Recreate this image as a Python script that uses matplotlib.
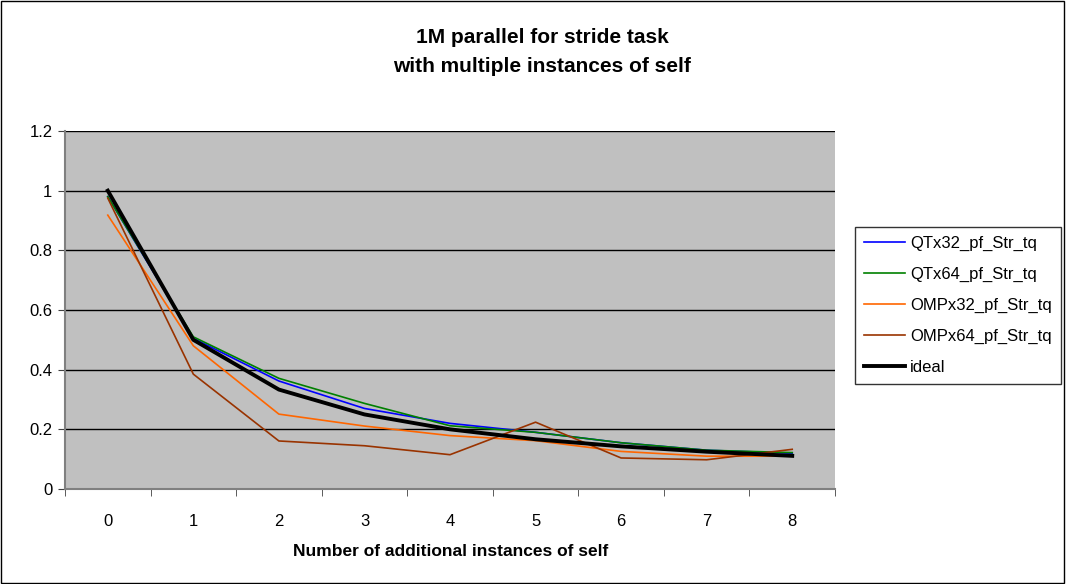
#!/usr/bin/env python
# -*- coding: utf-8 -*-
"""
1M parallel for stride task, relative times per number of extra instances
"""
import numpy as np
import matplotlib
matplotlib.use('Agg')
import matplotlib.pyplot as plt

plt.rcParams['font.family'] = ['Liberation Sans', 'DejaVu Sans']

instances = [0, 1, 2, 3, 4, 5, 6, 7, 8]
qt32 = [0.98, 0.505, 0.362, 0.27, 0.22, 0.19, 0.155, 0.13, 0.12]
qt64 = [0.98, 0.51, 0.371, 0.287, 0.212, 0.19, 0.155, 0.13, 0.122]
omp32 = [0.918, 0.48, 0.251, 0.211, 0.179, 0.162, 0.126, 0.11, 0.11]
omp64 = [0.975, 0.385, 0.161, 0.145, 0.115, 0.224, 0.104, 0.098, 0.133]
ideal = [1.0, 0.5, 0.3333, 0.25, 0.2, 0.1667, 0.1429, 0.125, 0.1111]

series = [
    ('QTx32_pf_Str_tq', qt32, '#0000ff', 1.2),
    ('QTx64_pf_Str_tq', qt64, '#008000', 1.2),
    ('OMPx32_pf_Str_tq', omp32, '#ff6600', 1.2),
    ('OMPx64_pf_Str_tq', omp64, '#993300', 1.2),
    ('ideal', ideal, '#000000', 2.8),
]


def main():
    fig = plt.figure(figsize=(10.66, 5.84), dpi=100)
    fig.patch.set_facecolor('white')
    fig.add_artist(plt.Rectangle((0.001, 0.002), 0.997, 0.996, transform=fig.transFigure,
                                 fill=False, edgecolor='black', linewidth=1))

    ax = fig.add_axes([65 / 1066, 1 - 489 / 584, 770 / 1066, 358 / 584])
    ax.set_facecolor('#c0c0c0')

    x = np.arange(len(instances))
    for name, vals, col, lw in series:
        ax.plot(x, vals, color=col, linewidth=lw, label=name, solid_joinstyle='round')

    ax.set_xlim(-0.5, len(instances) - 0.5)
    ax.set_ylim(0, 1.2)
    ax.set_yticks(np.arange(0, 1.21, 0.2))
    ax.set_yticklabels(['0', '0.2', '0.4', '0.6', '0.8', '1', '1.2'], fontsize=12)
    ax.set_xticks(x)
    ax.set_xticklabels([str(i) for i in instances], fontsize=12)
    ax.set_xticks(np.arange(-0.5, len(instances), 1.0), minor=True)
    ax.tick_params(axis='x', which='major', length=0, pad=18)
    ax.tick_params(axis='x', which='minor', length=5, direction='out', color='#404040')
    ax.tick_params(axis='y', length=5, direction='out', color='#404040', pad=4)
    ax.grid(axis='y', color='black', linewidth=1)
    ax.set_axisbelow(True)
    for side in ['top', 'right']:
        ax.spines[side].set_visible(False)
    for side in ['left', 'bottom']:
        ax.spines[side].set_color('#808080')
        ax.spines[side].set_linewidth(1.5)

    fig.text(542 / 1066, 1 - 52 / 584, '1M parallel for stride task\nwith multiple instances of self',
             ha='center', va='center', fontsize=15, fontweight='bold', linespacing=1.7)
    fig.text(451 / 1066, 1 - 551 / 584, 'Number of additional instances of self',
             ha='center', va='center', fontsize=12.5, fontweight='bold')

    leg = ax.legend(loc='upper left', bbox_to_anchor=(855 / 1066, 1 - 227 / 584),
                    bbox_transform=fig.transFigure, fontsize=12, frameon=True,
                    fancybox=False, edgecolor='black', handlelength=2.45,
                    labelspacing=0.95, borderpad=0.55, handletextpad=0.3, borderaxespad=0)
    leg.get_frame().set_linewidth(1)

    fig.savefig('out.png', dpi=100)


if __name__ == '__main__':
    main()
